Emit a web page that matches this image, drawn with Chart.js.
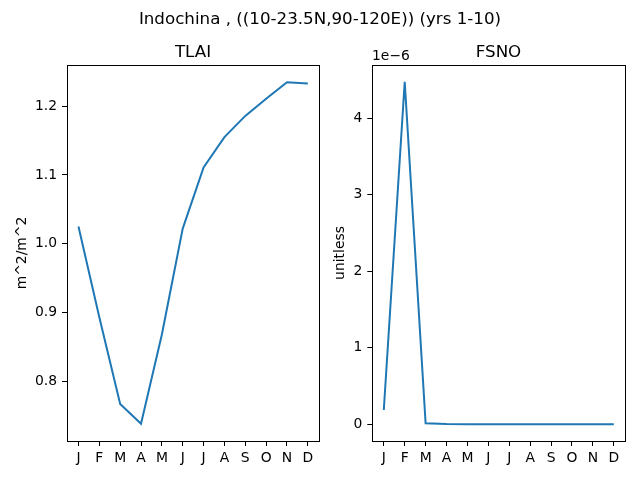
<!DOCTYPE html>
<html>
<head>
<meta charset="utf-8">
<script src="https://cdn.jsdelivr.net/npm/chart.js@4"></script>
<style>
  body { margin: 0; background: #fff; }
  #fig { position: relative; width: 640px; height: 480px; overflow: hidden; font-family: "DejaVu Sans", sans-serif; color: #000; }
  canvas { position: absolute; top: 0; }
  .txt { position: absolute; line-height: 1; white-space: nowrap; }
</style>
</head>
<body>
<div id="fig">
  <canvas id="c1" width="330" height="480" style="left:0"></canvas>
  <canvas id="c2" width="310" height="480" style="left:330px"></canvas>
  <div class="txt" style="left:0;width:640px;text-align:center;top:10px;font-size:16.7px">Indochina , ((10-23.5N,90-120E)) (yrs 1-10)</div>
  <div class="txt" style="left:67px;width:252px;text-align:center;top:42.6px;font-size:16.7px">TLAI</div>
  <div class="txt" style="left:372px;width:253px;text-align:center;top:42.6px;font-size:16.7px">FSNO</div>
  <div class="txt" style="left:372px;top:49px;font-size:13.9px">1e−6</div>
</div>
<script>
const months = ['J','F','M','A','M','J','J','A','S','O','N','D'];
const tlai = [1.025, 0.893, 0.767, 0.738, 0.868, 1.022, 1.111, 1.155, 1.186, 1.211, 1.235, 1.233];
const fsno = [1.87e-7, 4.478e-6, 1.3e-8, 3e-9, 2e-9, 2e-9, 2e-9, 2e-9, 2e-9, 2e-9, 2e-9, 2e-9];
const tlaiTicks = [0.8, 0.9, 1.0, 1.1, 1.2];
const tlaiTickLabels = ['0.8', '0.9', '1.0', '1.1', '1.2'];
const fsnoTicks = [0, 1e-6, 2e-6, 3e-6, 4e-6];
const fsnoTickLabels = ['0', '1', '2', '3', '4'];

const blue = '#1f77b4';
const tickFont = { family: 'DejaVu Sans', size: 13.9 };

// black box around the plot area, like matplotlib spines
const frame = {
  id: 'frame',
  afterDraw(chart) {
    const a = chart.chartArea, c = chart.ctx;
    c.save();
    c.strokeStyle = '#000';
    c.lineWidth = 1;
    c.strokeRect(Math.round(a.left) + 0.5, Math.round(a.top) + 0.5,
                 Math.round(a.right - a.left), Math.round(a.bottom - a.top));
    c.restore();
  }
};

function makeChart(id, values, yMin, yMax, yTicks, yLabels, yTitle, yWidth, titlePad, padRight) {
  return new Chart(document.getElementById(id), {
    type: 'line',
    data: {
      datasets: [{
        data: values.map((v, i) => ({ x: i, y: v })),
        borderColor: blue,
        borderWidth: 2,
        pointRadius: 0,
        tension: 0,
        fill: false
      }]
    },
    options: {
      responsive: false,
      animation: false,
      devicePixelRatio: 1,
      layout: { padding: { top: 65, right: padRight, left: 0, bottom: 0 } },
      plugins: { legend: { display: false }, tooltip: { enabled: false } },
      scales: {
        x: {
          type: 'linear',
          min: -0.55,
          max: 11.55,
          afterBuildTicks: s => { s.ticks = months.map((m, i) => ({ value: i })); },
          afterFit: s => { s.height = 39; },
          ticks: {
            autoSkip: false,
            maxRotation: 0,
            color: '#000',
            font: tickFont,
            padding: 4,
            callback: v => months[v]
          },
          grid: { drawOnChartArea: false, drawTicks: true, tickLength: 5, color: '#000' },
          border: { display: false }
        },
        y: {
          min: yMin,
          max: yMax,
          afterBuildTicks: s => { s.ticks = yTicks.map(v => ({ value: v })); },
          afterFit: s => { s.width = yWidth; },
          ticks: {
            color: '#000',
            font: tickFont,
            padding: 5,
            callback: (v, i) => yLabels[i]
          },
          grid: { drawOnChartArea: false, drawTicks: true, tickLength: 5, color: '#000' },
          border: { display: false },
          title: {
            display: true,
            text: yTitle,
            color: '#000',
            font: tickFont,
            padding: { top: titlePad, bottom: 0 }
          }
        }
      }
    },
    plugins: [frame]
  });
}

makeChart('c1', tlai, 0.713, 1.260, tlaiTicks, tlaiTickLabels, 'm^2/m^2', 67, 14.3, 10.7);
makeChart('c2', fsno, -0.218e-6, 4.697e-6, fsnoTicks, fsnoTickLabels, 'unitless', 42.3, 2.1, 14.7);
</script>
</body>
</html>
